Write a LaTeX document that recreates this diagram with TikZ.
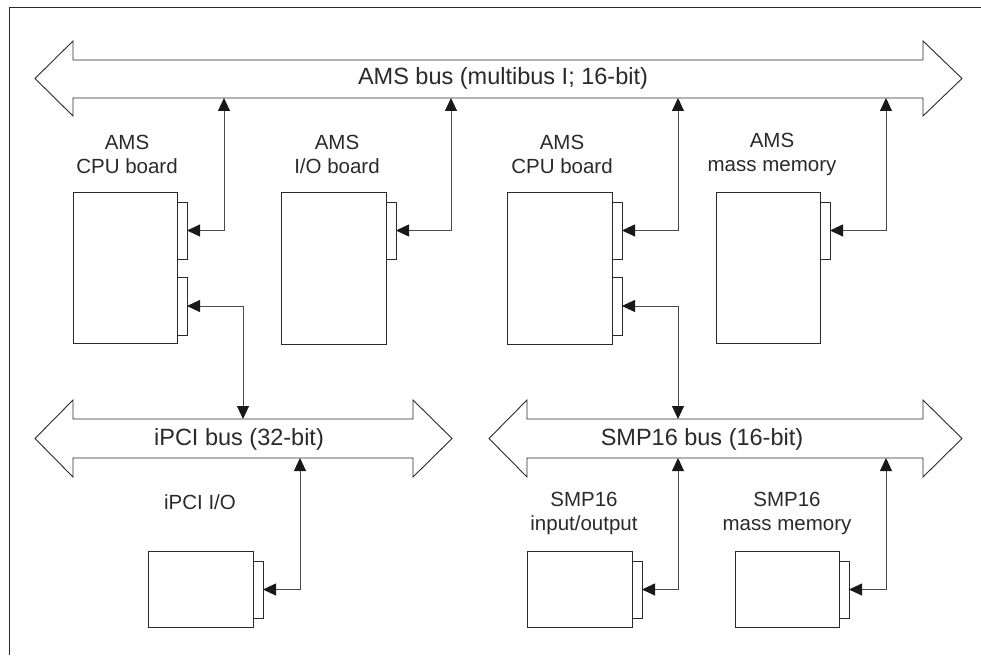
\documentclass[tikz,border=0pt]{standalone}
\usepackage{fontspec}
\setmainfont{Liberation Sans}
\usetikzlibrary{arrows.meta}
\definecolor{ink}{HTML}{2A2A2A}
\tikzset{
  board/.style={draw=ink, line width=0.9pt, fill=white, inner sep=0pt, outer sep=0pt, anchor=north west},
  plug/.style={draw=ink, line width=0.9pt, fill=white, inner sep=0pt, outer sep=0pt, anchor=north west,
    minimum width=10pt, minimum height=57pt},
  busbody/.style={draw=ink, line width=0.9pt, fill=white, line join=miter},
  buslabel/.style={text=ink, font=\fontsize{23.5}{27}\selectfont, inner sep=0pt},
  boardlabel/.style={text=ink, font=\fontsize{20.5}{24}\selectfont, align=center, inner sep=0pt},
  tip/.style={Triangle[length=13pt,width=12pt,color=black!90]},
  link/.style={draw=ink!85, line width=0.9pt, {Triangle[length=13pt,width=12pt,color=black!90]}-{Triangle[length=13pt,width=12pt,color=black!90]}},
}
\begin{document}
\begin{tikzpicture}[x=1pt,y=-1pt]
\useasboundingbox (0,0) rectangle (981,655);
% frame (left and top edges)
\draw[ink, line width=0.9pt] (9.5,655) -- (9.5,7.5) -- (981,7.5);

% ---- buses ----
\draw[busbody] (35,78.5) -- (73,41) -- (73,60) -- (923,60) -- (923,41) -- (962,78.5)
  -- (923,116) -- (923,98) -- (73,98) -- (73,116) -- cycle;
\node[buslabel] (amsbus) at (503,78.5) {AMS bus (multibus I; 16-bit)};

\draw[busbody] (35,438.5) -- (73,400) -- (73,419) -- (413,419) -- (413,400) -- (452,438.5)
  -- (413,477) -- (413,458) -- (73,458) -- (73,477) -- cycle;
\node[buslabel] (ipcibus) at (239,439) {iPCI bus (32-bit)};

\draw[busbody] (489,438.5) -- (527,400) -- (527,419) -- (923,419) -- (923,400) -- (962,438.5)
  -- (923,477) -- (923,458) -- (527,458) -- (527,477) -- cycle;
\node[buslabel] (smpbus) at (702,439) {SMP16 bus (16-bit)};

% tap points on the bus edges
\coordinate (ams-a) at (224,98);
\coordinate (ams-b) at (451,98);
\coordinate (ams-c) at (678,98);
\coordinate (ams-d) at (886,98);
\coordinate (ipci-top) at (243,419);
\coordinate (ipci-bot) at (300,458);
\coordinate (smp-top) at (678,419);
\coordinate (smp-a) at (678,458);
\coordinate (smp-b) at (886,458);

% ---- boards ----
\node[board, minimum width=104pt, minimum height=151pt] (cpu1) at (73,192) {};
\node[plug] (cpu1p1) at (177,202) {};
\node[plug, minimum height=58pt] (cpu1p2) at (177,277) {};
\node[boardlabel] (cpu1lbl) at (127,154) {AMS\\CPU board};

\node[board, minimum width=105pt, minimum height=152pt] (io1) at (281,192) {};
\node[plug] (io1p1) at (386,202) {};
\node[boardlabel] (io1lbl) at (337,154) {AMS\\I/O board};

\node[board, minimum width=105pt, minimum height=152pt] (cpu2) at (507,192) {};
\node[plug] (cpu2p1) at (612,202) {};
\node[plug, minimum height=58pt] (cpu2p2) at (612,277) {};
\node[boardlabel] (cpu2lbl) at (562,154) {AMS\\CPU board};

\node[board, minimum width=104pt, minimum height=151pt] (mem1) at (716,192) {};
\node[plug] (mem1p1) at (820,202) {};
\node[boardlabel] (mem1lbl) at (772,154) {AMS\\mass memory};

\node[board, minimum width=105pt, minimum height=76pt] (ipcio) at (148,551) {};
\node[plug] (ipciop1) at (253,561) {};
\node[boardlabel] (ipciolbl) at (200,502) {iPCI I/O};

\node[board, minimum width=105pt, minimum height=76pt] (smpio) at (527,551) {};
\node[plug] (smpiop1) at (632,561) {};
\node[boardlabel] (smpiolbl) at (584,513) {SMP16\\input/output};

\node[board, minimum width=104pt, minimum height=76pt] (smpmem) at (735,551) {};
\node[plug] (smpmemp1) at (839,561) {};
\node[boardlabel] (smpmemlbl) at (787,513) {SMP16\\mass memory};

% ---- links ----
\draw[link] (cpu1p1.east) -| (ams-a);
\draw[link] (io1p1.east) -| (ams-b);
\draw[link] (cpu2p1.east) -| (ams-c);
\draw[link] (mem1p1.east) -| (ams-d);
\draw[link] (cpu1p2.east) -| (ipci-top);
\draw[link] (cpu2p2.east) -| (smp-top);
\draw[link] (ipciop1.east) -| (ipci-bot);
\draw[link] (smpiop1.east) -| (smp-a);
\draw[link] (smpmemp1.east) -| (smp-b);
\end{tikzpicture}
\end{document}
